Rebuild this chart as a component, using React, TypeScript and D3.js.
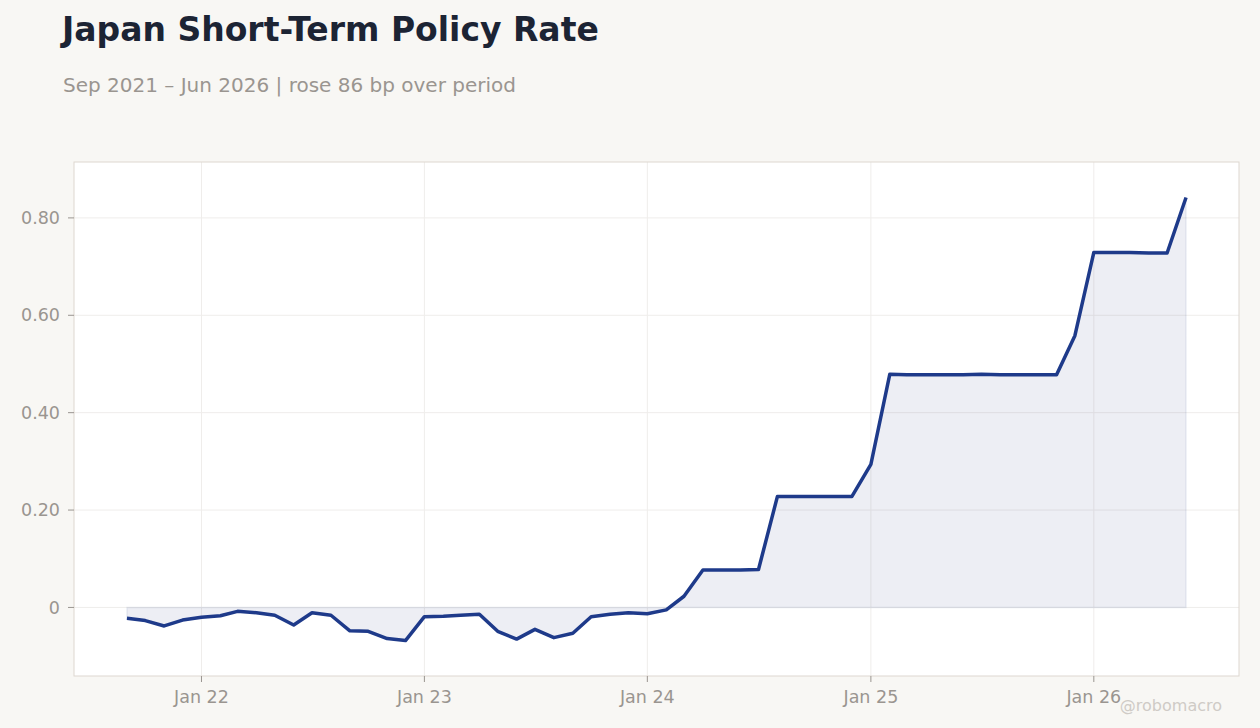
import React from 'react';
import * as d3 from 'd3';

// monthly observations, Sep 2021 .. Jun 2026
const startYear = 2021;
const startMonth = 8; // September (0-based)
const rates = [
  -0.022, -0.027, -0.038, -0.026, -0.020, -0.017, -0.008, -0.011, -0.016, -0.036,
  -0.011, -0.016, -0.048, -0.049, -0.064, -0.068, -0.019, -0.018, -0.016, -0.014,
  -0.049, -0.065, -0.045, -0.062, -0.053, -0.019, -0.014, -0.011, -0.013, -0.005,
  0.023, 0.077, 0.077, 0.077, 0.078, 0.228, 0.228, 0.228, 0.228, 0.228,
  0.294, 0.479, 0.478, 0.478, 0.478, 0.478, 0.479, 0.478, 0.478, 0.478,
  0.478, 0.558, 0.729, 0.729, 0.729, 0.728, 0.728, 0.842,
];
const yTicks = [0, 0.2, 0.4, 0.6, 0.8];

const title = 'Japan Short-Term Policy Rate';
const subtitle = 'Sep 2021 \u2013 Jun 2026 | rose 86 bp over period';
const credit = '@robomacro';

const W = 1260;
const H = 728;
const frame = { left: 74, top: 162, right: 1239, bottom: 676 };
const FONT = '"DejaVu Sans", sans-serif';
const NAVY = '#1e3a8a';

interface Point {
  date: Date;
  value: number;
}

export default function App() {
  const data: Point[] = rates.map((value, i) => ({
    date: new Date(startYear, startMonth + i, 1),
    value,
  }));

  const [d0, d1] = d3.extent(data, d => d.date) as [Date, Date];
  const span = +d1 - +d0;
  const x = d3
    .scaleTime()
    .domain([new Date(+d0 - span * 0.05), new Date(+d1 + span * 0.05)])
    .range([frame.left, frame.right]);

  const [vMin, vMax] = d3.extent(data, d => d.value) as [number, number];
  const pad = (vMax - vMin) * 0.08;
  const y = d3
    .scaleLinear()
    .domain([vMin - pad, vMax + pad])
    .range([frame.bottom, frame.top]);

  const xTicks = d3.timeYear.range(new Date(2022, 0, 1), new Date(2026, 1, 1));
  const fmtX = d3.timeFormat('%b %y');
  const fmtY = (v: number) => (v === 0 ? '0' : v.toFixed(2));

  const line = d3
    .line<Point>()
    .x(d => x(d.date))
    .y(d => y(d.value));
  const area = d3
    .area<Point>()
    .x(d => x(d.date))
    .y0(y(0))
    .y1(d => y(d.value));

  return (
    <svg
      width={W}
      height={H}
      style={{ position: 'absolute', left: 0, top: 0, background: '#f8f7f4' }}
      fontFamily={FONT}
    >
      <rect width={W} height={H} fill="#f8f7f4" />
      <text x={62} y={41} fontSize={33} fontWeight="bold" fill="#1c2434">
        {title}
      </text>
      <text x={63} y={92} fontSize={20} fill="#9a9590">
        {subtitle}
      </text>

      {/* plot frame */}
      <rect
        x={frame.left}
        y={frame.top}
        width={frame.right - frame.left}
        height={frame.bottom - frame.top}
        fill="#ffffff"
      />

      {/* grid */}
      {yTicks.map(t => (
        <line
          key={'gy' + t}
          x1={frame.left}
          x2={frame.right}
          y1={y(t)}
          y2={y(t)}
          stroke="#efedeb"
          strokeWidth={1}
        />
      ))}
      {xTicks.map(t => (
        <line
          key={'gx' + t.getTime()}
          x1={x(t)}
          x2={x(t)}
          y1={frame.top}
          y2={frame.bottom}
          stroke="#efedeb"
          strokeWidth={1}
        />
      ))}

      {/* area + line */}
      <path
        d={area(data) ?? ''}
        fill="#2a3a7a"
        fillOpacity={0.085}
        stroke={NAVY}
        strokeOpacity={0.08}
        strokeWidth={1.5}
      />
      <path
        d={line(data) ?? ''}
        fill="none"
        stroke={NAVY}
        strokeWidth={3.5}
        strokeLinejoin="round"
      />

      <rect
        x={frame.left}
        y={frame.top}
        width={frame.right - frame.left}
        height={frame.bottom - frame.top}
        fill="none"
        stroke="#ddd7d0"
        strokeWidth={1}
      />

      {/* y axis */}
      {yTicks.map(t => (
        <g key={'ty' + t}>
          <line x1={frame.left - 6} x2={frame.left} y1={y(t)} y2={y(t)} stroke="#9a9590" strokeWidth={1} />
          <text
            x={frame.left - 14}
            y={y(t)}
            dy="0.35em"
            textAnchor="end"
            fontSize={17.5}
            fill="#9a9590"
          >
            {fmtY(t)}
          </text>
        </g>
      ))}

      {/* x axis */}
      {xTicks.map(t => (
        <g key={'tx' + t.getTime()}>
          <line x1={x(t)} x2={x(t)} y1={frame.bottom} y2={frame.bottom + 6} stroke="#9a9590" strokeWidth={1} />
          <text x={x(t)} y={frame.bottom + 27} textAnchor="middle" fontSize={17.5} fill="#9a9590">
            {fmtX(t)}
          </text>
        </g>
      ))}

      <text x={1222} y={711} textAnchor="end" fontSize={16} fill="#cfcbc6">
        {credit}
      </text>
    </svg>
  );
}
